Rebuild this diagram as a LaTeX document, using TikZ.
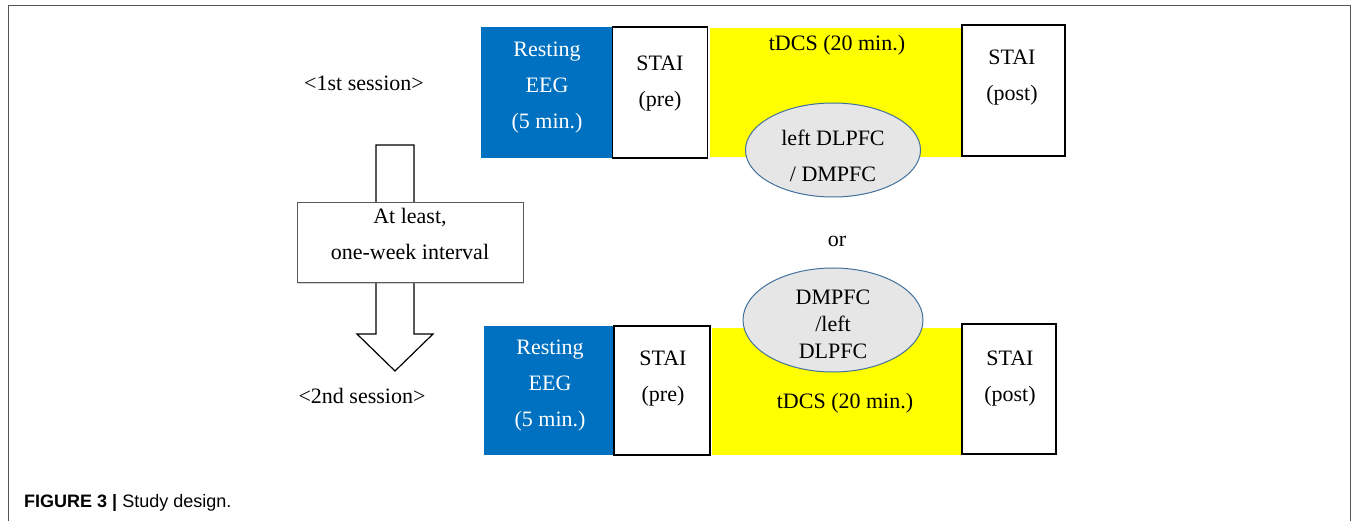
\documentclass[tikz,border=0pt]{standalone}
\usepackage{fontspec}
\setmainfont{Liberation Serif}
\newfontfamily\capfont{Liberation Sans}
\usetikzlibrary{shapes.geometric,shadows}
\definecolor{eegblue}{HTML}{0070C0}
\definecolor{tdcsyellow}{HTML}{FFFF00}
\definecolor{ellfill}{HTML}{E7E6E6}
\definecolor{elldraw}{HTML}{41719C}
\definecolor{framegray}{HTML}{555555}
\begin{document}
\begin{tikzpicture}[x=1pt,y=-1pt,
  txt/.style={font=\fontsize{22}{36}\selectfont, align=center, inner sep=0pt},
  eegbox/.style={fill=eegblue, draw=none, inner sep=0pt},
  wbox/.style={fill=white, draw=black, line width=1.3pt, inner sep=0pt},
  ybox/.style={fill=tdcsyellow, draw=none, inner sep=0pt},
  site/.style={ellipse, fill=ellfill, draw=elldraw, line width=1pt, inner sep=0pt},
  blockarrow/.style={fill=white, draw=black, line width=1.2pt, line join=miter},
  ibox/.style={fill=white, draw=black!65, line width=1pt, inner sep=0pt,
    drop shadow={opacity=0.35, shadow xshift=1.2pt, shadow yshift=-1.2pt}}]
\useasboundingbox (0,0) rectangle (1357,521);
\draw[framegray, line width=1pt] (8,521) -- (8,6) -- (1350,6) -- (1350,521);

% ---------- 1st session ----------
\node[eegbox, minimum width=131pt, minimum height=131pt] (eeg1) at (546.5,92.5) {};
\node[wbox, minimum width=95pt, minimum height=131pt] (pre1) at (660,92.5) {};
\node[ybox, minimum width=252pt, minimum height=129pt] (tdcs1) at (836,92.5) {};
\node[wbox, minimum width=103pt, minimum height=131pt] (post1) at (1013.5,90.5) {};
\node[site, minimum width=175pt, minimum height=94pt] (site1) at (833,150) {};

\node[txt, text=white] (eeg1t) at (547,88) {Resting\\EEG\\(5 min.)};
\node[txt] (pre1t) at (660,84) {STAI\\(pre)};
\node[txt] (tdcs1t) at (837,45) {tDCS (20 min.)};
\node[txt] (post1t) at (1012,78) {STAI\\(post)};
\node[txt] (site1t) at (833,156) {left DLPFC\\/ DMPFC};
\node[txt] (sess1) at (364,83) {<1st session>};

\node[txt] (or) at (837,241) {or};

% ---------- interval arrow ----------
\draw[blockarrow] (376,145) -- (414,145) -- (414,334) -- (433,334) -- (395,371)
  -- (357,334) -- (376,334) -- cycle;
\node[ibox, minimum width=226pt, minimum height=80pt] (interval) at (410,242.5) {};
\node[txt] (intervalt) at (410,234) {At least,\\one-week interval};

% ---------- 2nd session ----------
\node[eegbox, minimum width=130pt, minimum height=129pt] (eeg2) at (549,390.5) {};
\node[wbox, minimum width=96pt, minimum height=129pt] (pre2) at (662,390.5) {};
\node[ybox, minimum width=250pt, minimum height=127pt] (tdcs2) at (837,391.5) {};
\node[wbox, minimum width=94pt, minimum height=130pt] (post2) at (1009,389) {};
\node[site, minimum width=180pt, minimum height=104pt] (site2) at (833,320) {};

\node[txt, text=white] (eeg2t) at (550,386) {Resting\\EEG\\(5 min.)};
\node[txt] (pre2t) at (663,379) {STAI\\(pre)};
\node[txt] (tdcs2t) at (845,403) {tDCS (20 min.)};
\node[txt] (post2t) at (1010,379) {STAI\\(post)};
\node[txt, font=\fontsize{22}{27}\selectfont] (site2t) at (833,324) {DMPFC\\/left\\DLPFC};
\node[txt] (sess2) at (362,396) {<2nd session>};

% ---------- caption ----------
\node[anchor=west, inner sep=0pt, font=\capfont\fontsize{18}{20}\selectfont] (caption) at (24,503)
  {\textbf{FIGURE 3 |} Study design.};
\end{tikzpicture}
\end{document}
